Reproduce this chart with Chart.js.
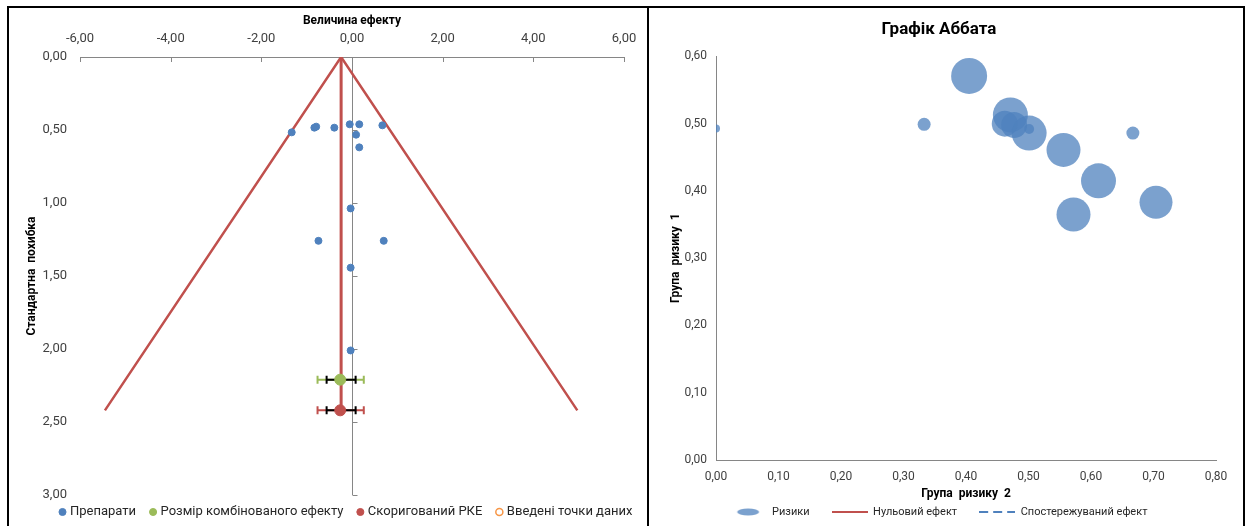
<!DOCTYPE html>
<html>
<head>
<meta charset="utf-8">
<title>Funnel / L'Abbé</title>
<script src="https://cdn.jsdelivr.net/npm/chart.js@4.4.1/dist/chart.umd.min.js"></script>
<style>
  body { margin: 0; background: #fff; }
  #frame { position: absolute; left: 7px; top: 6px; width: 1234px; height: 530px; border: 2px solid #000; }
  #divider { position: absolute; left: 647px; top: 6px; width: 2px; height: 530px; background: #000; }
  .box { position: absolute; top: 0; height: 526px; }
  #funnelBox { left: 0; width: 648px; }
  #abbeBox { left: 648px; width: 597px; }
</style>
</head>
<body>
<div id="frame"></div>
<div id="divider"></div>
<div class="box" id="funnelBox"><canvas id="funnel" width="648" height="526"></canvas></div>
<div class="box" id="abbeBox"><canvas id="abbe" width="597" height="526"></canvas></div>

<script>
// --- funnel plot data ---
var drugEffect = [-1.33, -0.83, -0.79, -0.39, -0.05, 0.16, 0.67, 0.09, 0.16, -0.03, -0.74, 0.70, -0.03, -0.03];
var drugSE     = [0.516, 0.484, 0.477, 0.484, 0.461, 0.461, 0.468, 0.532, 0.619, 1.037, 1.259, 1.259, 1.443, 2.01];

var pooledNames  = ['Розмір комбінованого ефекту', 'Скоригований РКЕ'];
var pooledColors = ['#9BBB59', '#C0504D'];
var pooledEffect = [-0.26, -0.26];
var pooledSE     = [2.21, 2.42];
var pooledCI     = [[-0.56, 0.08], [-0.56, 0.08]];
var pooledPI     = [[-0.76, 0.26], [-0.76, 0.26]];

var funnelEffect = [-5.45, -0.24, 4.97];
var funnelSE     = [2.42, 0, 2.42];
var centreEffect = -0.24;

var effectTicks = [-6, -4, -2, 0, 2, 4, 6];
var seTicks     = [0, 0.5, 1, 1.5, 2, 2.5, 3];

// --- L'Abbé plot data ---
var riskGroup2 = [0.00, 0.333, 0.405, 0.471, 0.462, 0.477, 0.501, 0.501, 0.556, 0.612, 0.572, 0.667, 0.704];
var riskGroup1 = [0.493, 0.499, 0.571, 0.513, 0.500, 0.498, 0.486, 0.492, 0.461, 0.415, 0.365, 0.486, 0.383];
var bubbleSize = [4, 6.5, 18, 17.5, 13, 13, 17.5, 5, 17, 17.5, 17, 6.5, 16.5];

var FONT = 'Roboto, "Liberation Sans", sans-serif';
var TEXT = '#404040';
var AXIS = '#868686';
var BLUE = '#4F81BD';
var BUBBLE = 'rgba(79,129,189,0.75)';

function comma(v) {
    return Number(v).toFixed(2).replace('.', ',');
}

function points(xs, ys) {
    return xs.map(function (x, i) { return {x: x, y: ys[i]}; });
}

// nudges the legend after layout so the plot area keeps its own size
function legendShift(dx, dy) {
    return {
        id: 'legendShift',
        afterLayout: function (chart) {
            var lg = chart.legend;
            lg.left += dx; lg.right += dx;
            lg.top += dy; lg.bottom += dy;
        }
    };
}

// axis marks that Excel draws inside the plot: ticks under the top axis,
// plus the zero line with its own little ticks
var funnelMarks = {
    id: 'funnelMarks',
    beforeDatasetsDraw: function (chart) {
        var ctx = chart.ctx, x = chart.scales.x, y = chart.scales.y;
        ctx.save();
        ctx.strokeStyle = AXIS;
        ctx.lineWidth = 1;
        x.ticks.forEach(function (t) {
            var px = Math.round(x.getPixelForValue(t.value)) + 0.5;
            ctx.beginPath(); ctx.moveTo(px, y.top); ctx.lineTo(px, y.top + 5); ctx.stroke();
        });
        var x0 = Math.round(x.getPixelForValue(0)) + 0.5;
        ctx.beginPath(); ctx.moveTo(x0, y.top); ctx.lineTo(x0, y.bottom); ctx.stroke();
        y.ticks.forEach(function (t) {
            var py = Math.round(y.getPixelForValue(t.value)) + 0.5;
            ctx.beginPath(); ctx.moveTo(x0, py); ctx.lineTo(x0 + 5, py); ctx.stroke();
        });
        ctx.restore();
    },
    beforeDatasetDraw: function (chart, args) {
        if (args.index !== 2) return;
        var ctx = chart.ctx, x = chart.scales.x, y = chart.scales.y;
        function bar(range, py, color) {
            var a = x.getPixelForValue(range[0]), b = x.getPixelForValue(range[1]);
            ctx.strokeStyle = color;
            ctx.beginPath();
            ctx.moveTo(a, py); ctx.lineTo(b, py);
            ctx.moveTo(a, py - 4); ctx.lineTo(a, py + 4);
            ctx.moveTo(b, py - 4); ctx.lineTo(b, py + 4);
            ctx.stroke();
        }
        ctx.save();
        ctx.lineWidth = 2;
        pooledSE.forEach(function (se, i) {
            var py = y.getPixelForValue(se);
            bar(pooledPI[i], py, pooledColors[i]);
            bar(pooledCI[i], py, '#000');
        });
        ctx.restore();
    }
};

new Chart(document.getElementById('funnel'), {
    type: 'scatter',
    data: {
        datasets: [{
            label: 'Препарати',
            data: points(drugEffect, drugSE),
            backgroundColor: BLUE,
            borderColor: BLUE,
            pointRadius: 3.5,
            order: 0
        }, {
            label: pooledNames[0],
            data: [{x: pooledEffect[0], y: pooledSE[0]}],
            backgroundColor: pooledColors[0],
            borderColor: pooledColors[0],
            pointRadius: 5.5,
            order: 0
        }, {
            label: pooledNames[1],
            data: [{x: pooledEffect[1], y: pooledSE[1]}],
            backgroundColor: pooledColors[1],
            borderColor: pooledColors[1],
            pointRadius: 5.5,
            order: 0
        }, {
            label: 'Введені точки даних',
            data: [],
            backgroundColor: '#fff',
            borderColor: '#F79646',
            borderWidth: 1.5,
            order: 0
        }, {
            label: 'funnel',
            data: points(funnelEffect, funnelSE),
            showLine: true,
            borderColor: '#C0504D',
            borderWidth: 2.5,
            pointRadius: 0,
            order: 1
        }, {
            label: 'centre',
            data: [{x: centreEffect, y: 0}, {x: centreEffect, y: pooledSE[1]}],
            showLine: true,
            borderColor: '#C0504D',
            borderWidth: 3,
            pointRadius: 0,
            order: 1
        }]
    },
    options: {
        responsive: false,
        animation: false,
        layout: {padding: {left: 14, right: 24, top: 10, bottom: -8}},
        scales: {
            x: {
                type: 'linear',
                position: 'top',
                min: -6, max: 6,
                afterBuildTicks: function (s) { s.ticks = effectTicks.map(function (v) { return {value: v}; }); },
                afterFit: function (s) { s.height = 47; },
                grid: {display: false, drawTicks: false},
                border: {display: true, color: AXIS, width: 1},
                ticks: {padding: 10, color: TEXT, font: {family: FONT, size: 13}, callback: comma},
                title: {display: true, text: 'Величина ефекту', color: '#000', padding: {top: 4, bottom: 0},
                        font: {family: FONT, size: 12, weight: 'bold'}}
            },
            y: {
                type: 'linear',
                reverse: true,
                min: 0, max: 3,
                afterBuildTicks: function (s) { s.ticks = seTicks.map(function (v) { return {value: v}; }); },
                afterFit: function (s) { s.width = 66; },
                grid: {display: false, drawTicks: false},
                border: {display: false},
                ticks: {padding: 13, color: TEXT, font: {family: FONT, size: 13}, callback: comma},
                title: {display: true, text: 'Стандартна  похибка', color: '#000', padding: {top: 11, bottom: 0},
                        font: {family: FONT, size: 12, weight: 'bold'}}
            }
        },
        plugins: {
            tooltip: {enabled: false},
            legend: {
                position: 'bottom',
                labels: {
                    usePointStyle: true,
                    pointStyle: 'circle',
                    boxWidth: 2,
                    boxHeight: 5,
                    padding: 16,
                    color: '#262626',
                    font: {family: FONT, size: 13},
                    filter: function (item) { return item.datasetIndex < 4; }
                }
            }
        }
    },
    plugins: [funnelMarks, legendShift(28, -5.5)]
});

// legend marks for the right chart
function legendMark(draw) {
    var c = document.createElement('canvas');
    c.width = 36; c.height = 10;
    draw(c.getContext('2d'));
    return c;
}
var abbeMarks = [
    legendMark(function (g) {
        g.fillStyle = BUBBLE;
        g.beginPath(); g.ellipse(17.5, 5, 11, 3.5, 0, 0, Math.PI * 2); g.fill();
    }),
    legendMark(function (g) {
        g.strokeStyle = '#C0504D'; g.lineWidth = 2;
        g.beginPath(); g.moveTo(0, 5); g.lineTo(36, 5); g.stroke();
    }),
    legendMark(function (g) {
        g.strokeStyle = BLUE; g.lineWidth = 2; g.setLineDash([9, 5]);
        g.beginPath(); g.moveTo(0, 5); g.lineTo(36, 5); g.stroke();
    })
];

new Chart(document.getElementById('abbe'), {
    type: 'bubble',
    data: {
        datasets: [{
            label: 'Ризики',
            data: riskGroup2.map(function (x, i) { return {x: x, y: riskGroup1[i], r: bubbleSize[i]}; }),
            backgroundColor: BUBBLE,
            borderWidth: 0
        }, {
            type: 'line',
            label: 'Нульовий ефект',
            data: [],
            borderColor: '#C0504D',
            borderWidth: 2
        }, {
            type: 'line',
            label: 'Спостережуваний ефект',
            data: [],
            borderColor: BLUE,
            borderDash: [9, 5],
            borderWidth: 2
        }]
    },
    options: {
        responsive: false,
        animation: false,
        layout: {padding: {left: 14, right: 29, top: 10, bottom: -1.5}},
        scales: {
            x: {
                type: 'linear',
                min: 0, max: 0.8,
                ticks: {stepSize: 0.1, padding: 10, color: TEXT, font: {family: FONT, size: 12}, callback: comma},
                afterFit: function (s) { s.height = 24.5; },
                grid: {display: false, drawTicks: false},
                border: {display: true, color: AXIS, width: 1},
                title: {display: true, text: 'Група  ризику  2', color: '#000', padding: {top: 0, bottom: -17},
                        font: {family: FONT, size: 12, weight: 'bold'}}
            },
            y: {
                type: 'linear',
                min: 0, max: 0.6,
                ticks: {stepSize: 0.1, padding: 9, color: TEXT, font: {family: FONT, size: 12}, callback: comma},
                afterFit: function (s) { s.width = 54; },
                grid: {display: false, drawTicks: false},
                border: {display: true, color: AXIS, width: 1},
                title: {display: true, text: 'Група  ризику  1', color: '#000', padding: {top: 7, bottom: 0},
                        font: {family: FONT, size: 12, weight: 'bold'}}
            }
        },
        plugins: {
            tooltip: {enabled: false},
            title: {
                display: true,
                text: 'Графік Аббата',
                color: '#000',
                padding: {top: 10, bottom: 16},
                font: {family: FONT, size: 17, weight: 'bold'}
            },
            legend: {
                position: 'bottom',
                labels: {
                    usePointStyle: true,
                    pointStyleWidth: 36,
                    padding: 22,
                    color: '#262626',
                    font: {family: FONT, size: 11},
                    generateLabels: function (chart) {
                        var items = Chart.defaults.plugins.legend.labels.generateLabels(chart);
                        items.forEach(function (it, i) { it.pointStyle = abbeMarks[i]; });
                        return items;
                    }
                }
            }
        }
    }
});
</script>
</body>
</html>
